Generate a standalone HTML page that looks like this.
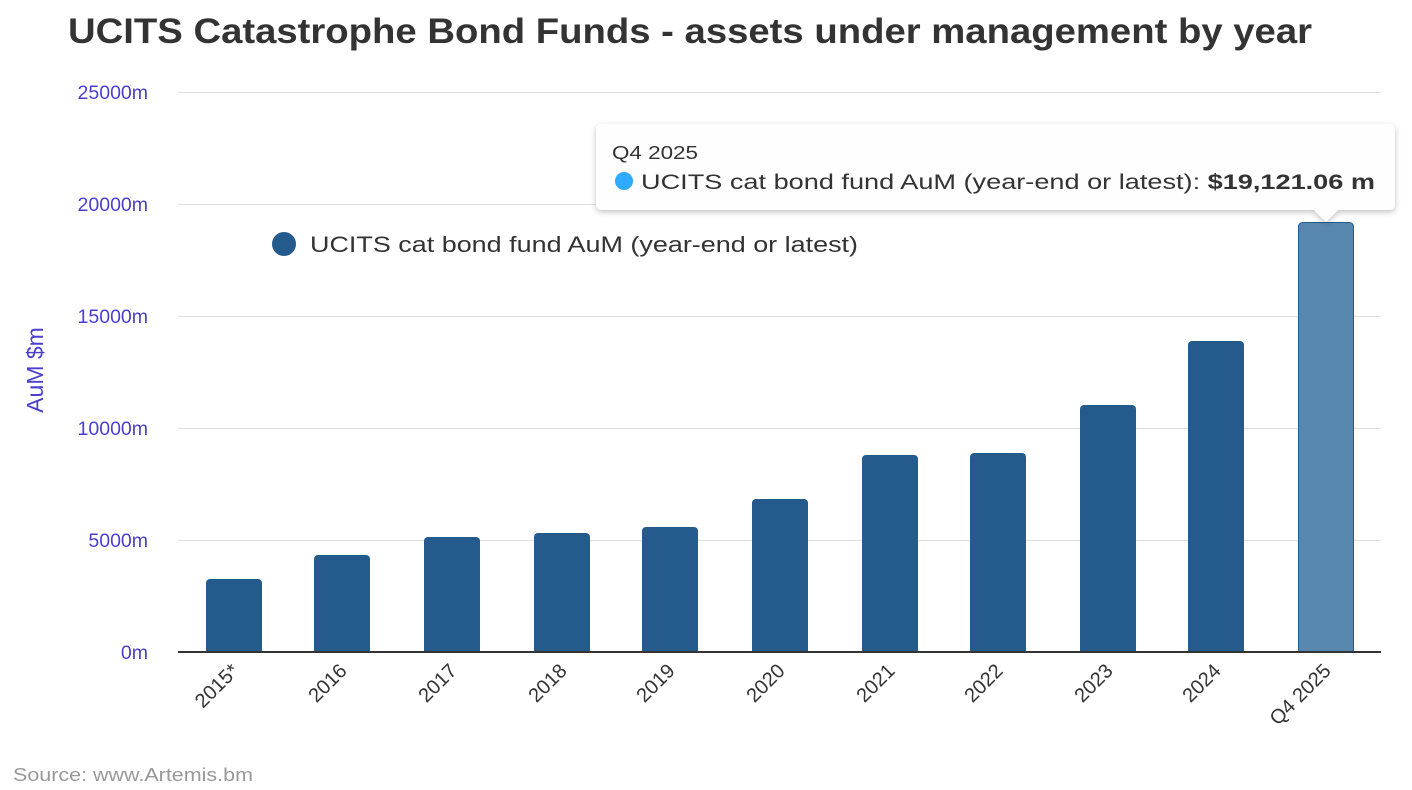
<!DOCTYPE html>
<html><head><meta charset="utf-8"><style>
html,body{margin:0;padding:0;background:#fff;}
svg{display:block;font-family:"Liberation Sans",Arial,sans-serif;}
</style></head><body>
<svg width="1412" height="790" viewBox="0 0 1412 790" xmlns="http://www.w3.org/2000/svg">
<text x="68" y="43" font-size="35" font-weight="bold" fill="#333" textLength="1244" lengthAdjust="spacingAndGlyphs">UCITS Catastrophe Bond Funds - assets under management by year</text>
<g stroke="#e0e0e0" stroke-width="1">
<line x1="178" y1="92.5" x2="1381" y2="92.5"/>
<line x1="178" y1="204.5" x2="1381" y2="204.5"/>
<line x1="178" y1="316.5" x2="1381" y2="316.5"/>
<line x1="178" y1="428.5" x2="1381" y2="428.5"/>
<line x1="178" y1="540.5" x2="1381" y2="540.5"/>
</g>
<g font-size="19.5" fill="#4a3fcf" text-anchor="end">
<text x="148" y="99">25000m</text>
<text x="148" y="211">20000m</text>
<text x="148" y="323">15000m</text>
<text x="148" y="435">10000m</text>
<text x="148" y="547">5000m</text>
<text x="148" y="659">0m</text>
</g>
<text transform="translate(43,370) rotate(-90)" font-size="23" fill="#4a3fcf" text-anchor="middle">AuM $m</text>
<g fill="#245b8c">
<rect x="206" y="579" width="56" height="80" rx="4"/>
<rect x="314" y="555" width="56" height="104" rx="4"/>
<rect x="424" y="537" width="56" height="122" rx="4"/>
<rect x="534" y="533" width="56" height="126" rx="4"/>
<rect x="642" y="527" width="56" height="132" rx="4"/>
<rect x="752" y="499" width="56" height="160" rx="4"/>
<rect x="862" y="455" width="56" height="204" rx="4"/>
<rect x="970" y="453" width="56" height="206" rx="4"/>
<rect x="1080" y="405" width="56" height="254" rx="4"/>
<rect x="1188" y="341" width="56" height="318" rx="4"/>
</g>
<rect x="1298.5" y="222.5" width="55" height="436" rx="4" fill="#5887ad" stroke="#245b8c" stroke-width="1"/>
<rect x="178" y="653" width="1220" height="10" fill="#fff"/>
<line x1="178" y1="652" x2="1381" y2="652" stroke="#333" stroke-width="2"/>
<g font-size="20" fill="#333" text-anchor="end">
<text transform="translate(240,672) rotate(-45)">2015*</text>
<text transform="translate(348,672) rotate(-45)">2016</text>
<text transform="translate(458,672) rotate(-45)">2017</text>
<text transform="translate(568,672) rotate(-45)">2018</text>
<text transform="translate(676,672) rotate(-45)">2019</text>
<text transform="translate(786,672) rotate(-45)">2020</text>
<text transform="translate(896,672) rotate(-45)">2021</text>
<text transform="translate(1004,672) rotate(-45)">2022</text>
<text transform="translate(1114,672) rotate(-45)">2023</text>
<text transform="translate(1222,672) rotate(-45)">2024</text>
<text transform="translate(1332,672) rotate(-45)">Q4 2025</text>
</g>
<circle cx="284" cy="244" r="12" fill="#245b8c"/>
<text x="310" y="252" font-size="22" fill="#333" textLength="548" lengthAdjust="spacingAndGlyphs">UCITS cat bond fund AuM (year-end or latest)</text>
<text x="13" y="781" font-size="18" fill="#999" textLength="240" lengthAdjust="spacingAndGlyphs">Source: www.Artemis.bm</text>
<defs><filter id="sh" x="-5%" y="-20%" width="110%" height="150%"><feDropShadow dx="0" dy="2" stdDeviation="3" flood-color="#000" flood-opacity="0.25"/></filter></defs>
<g filter="url(#sh)">
<path d="M601,124 H1390 a5,5 0 0 1 5,5 V205 a5,5 0 0 1 -5,5 H1338 L1326,222 L1314,210 H601 a5,5 0 0 1 -5,-5 V129 a5,5 0 0 1 5,-5 Z" fill="#fff" fill-opacity="0.97"/>
</g>
<text x="612" y="159" font-size="18" fill="#333" textLength="86" lengthAdjust="spacingAndGlyphs">Q4 2025</text>
<circle cx="624" cy="181" r="9" fill="#2eaaff"/>
<text x="641" y="189" font-size="21" fill="#333" textLength="734" lengthAdjust="spacingAndGlyphs">UCITS cat bond fund AuM (year-end or latest): <tspan font-weight="bold">$19,121.06 m</tspan></text>
</svg>
</body></html>
